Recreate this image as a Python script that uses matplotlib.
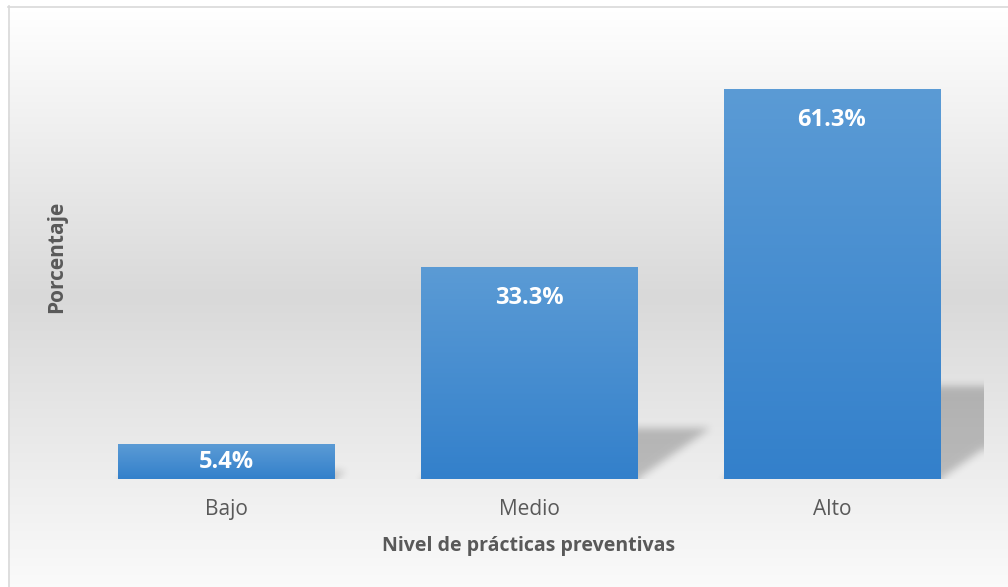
import numpy as np
import matplotlib
matplotlib.use("Agg")
import matplotlib.pyplot as plt
from matplotlib.colors import to_rgb, LinearSegmentedColormap

# ---- data ----
categories = ["Bajo", "Medio", "Alto"]
values = [5.4, 33.3, 61.3]
value_labels = ["5.4%", "33.3%", "61.3%"]
x_title = "Nivel de prácticas preventivas"
y_title = "Porcentaje"

W, H = 1008, 587
DPI = 100
TXT = "#595959"
FONT = "Open Sans"

fig = plt.figure(figsize=(W / DPI, H / DPI), dpi=DPI)
fig.patch.set_facecolor("white")

# ---- background gradient (figure-level) ----
bg = fig.add_axes([0, 0, 1, 1], zorder=0)
bg.set_xlim(0, W)
bg.set_ylim(H, 0)
bg.axis("off")
yy = np.arange(H)
g = np.interp(yy, [6, 290, 587], [255, 217, 251]) / 255.0
img = np.repeat(g[:, None], 2, axis=1)
bg.imshow(np.dstack([img, img, img]), extent=(8, W + 5, H + 5, 6),
          aspect="auto", interpolation="bilinear")
bg.plot([8.5, 8.5], [6, H + 5], color="#d9d9d9", lw=1.2)
bg.plot([8, W + 5], [6.5, 6.5], color="#d9d9d9", lw=1.2)

# ---- main axes ----
px_per_unit = 6.346
ymax = 70
base_px = 479
ax_h_px = ymax * px_per_unit
centers_px = (226, 832)
left_px = centers_px[0] - (centers_px[1] - centers_px[0]) / 4
right_px = centers_px[1] + (centers_px[1] - centers_px[0]) / 4
ax = fig.add_axes([left_px / W, (H - base_px) / H,
                   (right_px - left_px) / W, ax_h_px / H], zorder=1)
ax.patch.set_alpha(0)
ax.set_xlim(-0.5, len(categories) - 0.5)
ax.set_ylim(0, ymax)
for s in ax.spines.values():
    s.set_visible(False)
ax.set_yticks([])
x = np.arange(len(categories))
ax.set_xticks(x)
ax.set_xticklabels(categories, fontsize=15, color=TXT, family=FONT)
ax.tick_params(axis="x", length=0, pad=14.5)

bw = 0.713
top_c = np.array(to_rgb("#5b9bd5"))
bot_c = np.array(to_rgb("#3380cb"))

# ---- perspective shadows ----
axW = right_px - left_px
nx, ny = int(axW), int(ax_h_px)
xs = np.linspace(-0.5, len(categories) - 0.5, nx)
ys_px = np.arange(ny) + 0.5  # from baseline upward (px)
XX, YY = np.meshgrid(xs, ys_px)
mask = np.zeros_like(XX)
unit_px = axW / len(categories)
shear = 0.344
squash = 0.24
for xi, v in zip(x, values):
    h_px = v * px_per_unit
    src_y = YY / squash
    src_x = XX - (src_y * shear) / unit_px
    inside = (YY <= squash * h_px) & (src_x >= xi - bw / 2) & (src_x <= xi + bw / 2)
    mask[inside] = 1.0

def blur(a, sigma):
    r = int(3 * sigma)
    k = np.exp(-0.5 * (np.arange(-r, r + 1) / sigma) ** 2)
    k /= k.sum()
    a = np.apply_along_axis(lambda m: np.convolve(np.pad(m, r, mode="edge"), k, mode="valid"), 0, a)
    a = np.apply_along_axis(lambda m: np.convolve(np.pad(m, r, mode="edge"), k, mode="valid"), 1, a)
    return a

mask = blur(mask, 4.0)
mask[YY < 0.5] = 0
rgba = np.zeros((ny, nx, 4))
rgba[..., 3] = mask * 0.22
ax.imshow(rgba[::-1], extent=(-0.5, len(categories) - 0.5, 0, ny / px_per_unit),
          aspect="auto", zorder=1, interpolation="bilinear")

# ---- bars with vertical gradient ----
grad = np.linspace(0, 1, 256)[:, None]
cmap = LinearSegmentedColormap.from_list("bar", [bot_c, top_c])
for xi, v in zip(x, values):
    ax.imshow(grad, extent=(xi - bw / 2, xi + bw / 2, 0, v), origin="lower",
              cmap=cmap, aspect="auto", zorder=2, interpolation="bilinear")

# ---- value labels ----
for xi, v, lab in zip(x, values, value_labels):
    bar_px = v * px_per_unit
    off = min(30, bar_px / 2)
    ax.annotate(lab, (xi, v), xytext=(0, -off * 72 / DPI), textcoords="offset points",
                ha="center", va="center", color="white", fontsize=17,
                fontweight="bold", family=FONT, zorder=3)

ax.set_xlim(-0.5, len(categories) - 0.5)
ax.set_ylim(0, ymax)

fig.text(529 / W, 1 - 546 / H, x_title, ha="center", va="center",
         fontsize=14, fontweight="bold", color=TXT, family=FONT)
fig.text(57 / W, 1 - 257 / H, y_title, ha="center", va="center", rotation=90,
         fontsize=15, fontweight="bold", color=TXT, family=FONT)

fig.savefig("out.png", dpi=DPI)
